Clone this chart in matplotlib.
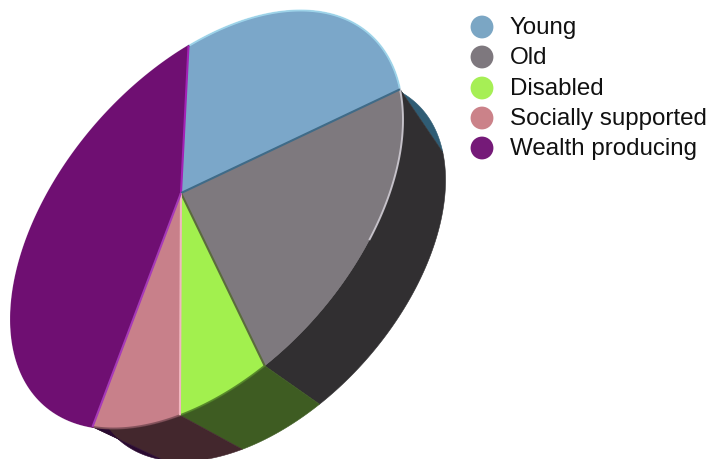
import numpy as np
import matplotlib
matplotlib.use('Agg')
import matplotlib.pyplot as plt

labels = ['Young', 'Old', 'Disabled', 'Socially supported', 'Wealth producing']
shares = [25.3, 18.5, 5.5, 6.5, 44.2]

top_colors = ['#7ba7c9', '#7e797e', '#a2f04e', '#c8808a', '#6f0f72']
side_colors = ['#2f5c74', '#312f31', '#3e5c22', '#43272d', '#2a0a30']
key_colors = ['#7ba6c4', '#7e787e', '#a6ef55', '#cb8289', '#751a78']
spoke_colors = ['#a322b5', '#3f6b88', '#5a6b3c', '#f2b6c0', '#a63ab8']
rim_colors = ['#a5dcf0', '#d4d0d8', '#4c7a25', '#7a4c55', '#6f0f72']
rim_reach = [1.0, 0.55, 1.0, 1.0, 1.0]

plt.rcParams['font.family'] = ['Liberation Sans', 'DejaVu Sans']

# tilted disc: ellipse frame in pixels, hub pushed off centre by a projective boost
centre = np.array([207.0, 219.5])
base_centre = np.array([267.0, 271.0])
base_scale = 0.911
frame = np.array([[196.0, 0.0], [-99.7, 183.7]])
hub = np.array([-0.1327, -0.216])
start_deg = 33.5

beta = np.hypot(*hub)
gamma = 1 / np.sqrt(1 - beta ** 2)
along = hub / beta
across = np.array([-along[1], along[0]])


def disc_point(deg):
    t = np.radians(deg)
    par, perp = np.cos(t), np.sin(t)
    w = gamma * (1 + beta * par)
    b_par = gamma * (par + beta)
    q = (np.outer(b_par, along) + np.outer(perp, across)) / w[:, None]
    return q @ frame.T


fig = plt.figure(figsize=(7.17, 4.59), dpi=100)
ax = fig.add_axes([0, 0, 1, 1])
ax.set_xlim(0, 717)
ax.set_ylim(459, 0)
ax.axis('off')

edges = start_deg + 3.6 * np.concatenate([[0], np.cumsum(shares)]) * 100 / sum(shares)
hub_px = centre + frame @ hub

# side wall first so the top face covers whatever is behind it
for i in range(len(shares)):
    arc = disc_point(np.linspace(edges[i], edges[i + 1], 120))
    upper = centre + arc
    lower = base_centre + base_scale * arc
    wall = np.vstack([upper, lower[::-1]])
    ax.fill(wall[:, 0], wall[:, 1], color=side_colors[i], lw=0.4, zorder=2)

for i in range(len(shares)):
    arc = centre + disc_point(np.linspace(edges[i], edges[i + 1], 120))
    face = np.vstack([hub_px, arc])
    ax.fill(face[:, 0], face[:, 1], color=top_colors[i], lw=0.4, zorder=3)
    lit = arc[:int(120 * rim_reach[i])]
    ax.plot(lit[:, 0], lit[:, 1], color=rim_colors[i], lw=1.4, zorder=4, alpha=0.85)

for i in range(len(shares)):
    tip = centre + disc_point(np.array([edges[i]]))[0]
    ax.plot([hub_px[0], tip[0]], [hub_px[1], tip[1]], color=spoke_colors[i], lw=1.5,
            zorder=5, solid_capstyle='butt')

# legend
key_y = [27, 57, 88, 118, 148]
ax.scatter([482] * len(labels), key_y, s=270, c=key_colors, linewidths=0, zorder=6)
for name, y in zip(labels, key_y):
    ax.text(510, y + 1, name, fontsize=17.4, color='#111111', va='center', ha='left', zorder=6)

fig.savefig('out.png', dpi=100)
